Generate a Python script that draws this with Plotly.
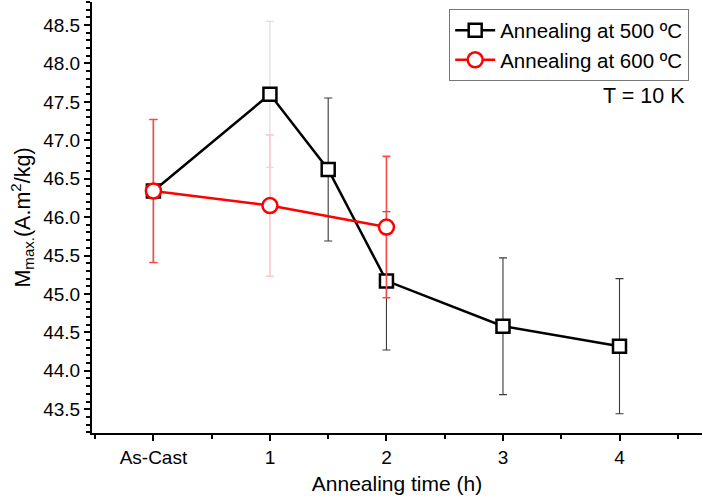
import plotly.graph_objects as go

# Annealing time positions (0 = as-cast sample)
time_500 = [0, 1, 1.5, 2, 3, 4]
time_600 = [0, 1, 2]
tick_vals = [0, 1, 2, 3, 4]
tick_text = ["As-Cast", "1", "2", "3", "4"]

# Maximum magnetization at T = 10 K (A.m2/kg) and its uncertainty
mmax_500 = [46.34, 47.60, 46.62, 45.17, 44.58, 44.32]
err_500 = [0.93, 0.95, 0.93, 0.90, 0.89, 0.88]
mmax_600 = [46.34, 46.15, 45.87]
err_600 = [0.93, 0.92, 0.92]

FONT = "Liberation Sans, Arial, sans-serif"
faint_idx = 1  # the 1 h point uses paler error bars


def split(xs, ys, es, keep):
    sel = [i for i in range(len(xs)) if keep(i)]
    return [xs[i] for i in sel], [ys[i] for i in sel], [es[i] for i in sel]


def err_trace(xs, ys, es, color, thick):
    return go.Scatter(
        x=xs, y=ys, mode="markers",
        marker=dict(size=1, color="rgba(0,0,0,0)"),
        error_y=dict(type="data", array=es, visible=True,
                     color=color, thickness=thick, width=4),
        showlegend=False, hoverinfo="skip",
    )


fig = go.Figure()

# 500 ºC series: error bars, then line + markers
x, y, e = split(time_500, mmax_500, err_500, lambda i: i != faint_idx)
fig.add_trace(err_trace(x, y, e, "#3a3a3a", 1.1))
x, y, e = split(time_500, mmax_500, err_500, lambda i: i == faint_idx)
fig.add_trace(err_trace(x, y, e, "#d8d8d8", 1.1))
fig.add_trace(go.Scatter(
    x=time_500, y=mmax_500, mode="lines+markers",
    name="Annealing at 500 ºC",
    line=dict(color="black", width=2.5),
    marker=dict(symbol="square", size=13, color="white",
                line=dict(color="black", width=2.5)),
))

# 600 ºC series
x, y, e = split(time_600, mmax_600, err_600, lambda i: i != faint_idx)
fig.add_trace(err_trace(x, y, e, "#ff4848", 1.6))
x, y, e = split(time_600, mmax_600, err_600, lambda i: i == faint_idx)
fig.add_trace(err_trace(x, y, e, "#ffc8c8", 1.6))
fig.add_trace(go.Scatter(
    x=time_600, y=mmax_600, mode="lines+markers",
    name="Annealing at 600 ºC",
    line=dict(color="#ff0000", width=2.5),
    marker=dict(symbol="circle", size=15, color="white",
                line=dict(color="#ff0000", width=2.5)),
))

fig.add_annotation(
    text="T = 10 K", xref="paper", yref="paper", x=0.976, y=0.782,
    xanchor="right", yanchor="middle", showarrow=False,
    font=dict(family=FONT, size=21.5, color="black"),
)

fig.update_layout(
    width=703, height=503,
    margin=dict(l=92, r=1, t=2, b=70),
    paper_bgcolor="white", plot_bgcolor="white",
    font=dict(family=FONT, size=19, color="black"),
    legend=dict(
        x=0.979, y=0.983, xanchor="right", yanchor="top",
        bordercolor="#777777", borderwidth=1,
        font=dict(family=FONT, size=20.5, color="black"),
        tracegroupgap=0, itemwidth=40,
    ),
    xaxis=dict(
        range=[-0.527, 4.708], tickvals=tick_vals, ticktext=tick_text,
        showgrid=False, zeroline=False,
        showline=True, linecolor="black", linewidth=2,
        ticks="outside", ticklen=6, tickwidth=2, tickcolor="black",
        minor=dict(dtick=0.5, tick0=0, ticks="outside", ticklen=4,
                   tickwidth=2, tickcolor="black"),
        title=dict(text="Annealing time (h)",
                   font=dict(family=FONT, size=21), standoff=10),
        tickfont=dict(family=FONT, size=19),
    ),
    yaxis=dict(
        range=[43.19, 48.80], dtick=0.5, tick0=43.5, tickformat=".1f",
        showgrid=False, zeroline=False,
        showline=True, linecolor="black", linewidth=2,
        ticks="outside", ticklen=6, tickwidth=2, tickcolor="black",
        minor=dict(dtick=0.1, ticks="outside", ticklen=4,
                   tickwidth=1.5, tickcolor="black"),
        title=dict(text="M<sub>max.</sub>(A.m<sup>2</sup>/kg)",
                   font=dict(family=FONT, size=21.5), standoff=7),
        tickfont=dict(family=FONT, size=19),
    ),
    xaxis2=dict(
        overlaying="x", anchor="y", side="top", range=[0.01, 9.89],
        dtick=1, tick0=0, showticklabels=False, showgrid=False,
        zeroline=False, showline=True, linecolor="black", linewidth=1.5,
        ticks="inside", ticklen=5, tickwidth=1.5, tickcolor="black",
    ),
    yaxis2=dict(
        overlaying="y", anchor="x", side="right", range=[43.19, 48.80],
        dtick=0.5, tick0=43.5, showticklabels=False, showgrid=False,
        zeroline=False, showline=True, linecolor="black", linewidth=1.5,
        ticks="inside", ticklen=5, tickwidth=1.5, tickcolor="black",
    ),
)

fig.write_html("out.html")
